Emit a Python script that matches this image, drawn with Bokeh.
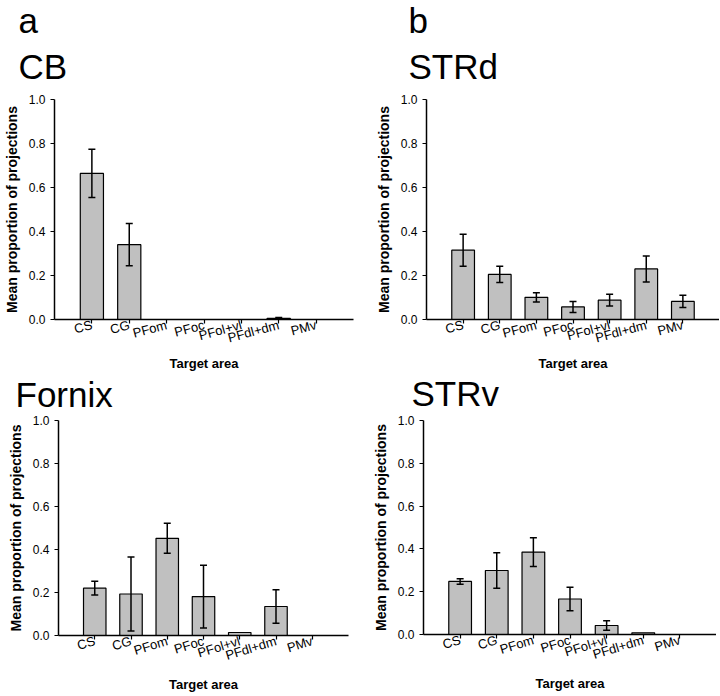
import math
from bokeh.plotting import figure
from bokeh.models import (Range1d, FixedTicker, Whisker, TeeHead, ColumnDataSource,
                          Title, PrintfTickFormatter)
from bokeh.layouts import column, row
from bokeh.embed import file_html
from bokeh.resources import INLINE

# ---------------- data ----------------
categories = ["CS", "CG", "PFom", "PFoc", "PFol+vl", "PFdl+dm", "PMv"]
y_ticks = [0.0, 0.2, 0.4, 0.6, 0.8, 1.0]

cb_mean = [0.664, 0.340, 0.0, 0.0, 0.0, 0.005, 0.0]
cb_err = [0.110, 0.096, 0.0, 0.0, 0.0, 0.004, 0.0]

strd_mean = [0.315, 0.205, 0.101, 0.057, 0.088, 0.230, 0.082]
strd_err = [0.073, 0.037, 0.021, 0.025, 0.027, 0.059, 0.028]

fornix_mean = [0.220, 0.193, 0.452, 0.181, 0.014, 0.135, 0.0]
fornix_err = [0.032, 0.172, 0.070, 0.146, 0.0, 0.078, 0.0]

strv_mean = [0.248, 0.299, 0.385, 0.166, 0.042, 0.008, 0.0]
strv_err = [0.013, 0.083, 0.067, 0.055, 0.022, 0.0, 0.0]

FONT = "Liberation Sans"


def make_panel(name, letter, means, errs, mbl, mbr, frame_w, frame_h, mbb,
               toff, name_standoff, letter_standoff, spacer_standoff,
               xlab_standoff, label_angle):
    xs = list(range(1, len(categories) + 1))
    p = figure(frame_width=frame_w, frame_height=frame_h,
               x_range=Range1d(0, 8), y_range=Range1d(0, 1),
               output_backend="svg", toolbar_location=None,
               min_border_left=mbl, min_border_right=mbr,
               min_border_top=0, min_border_bottom=mbb)
    p.outline_line_color = None
    p.xgrid.visible = False
    p.ygrid.visible = False

    p.vbar(x=xs, top=means, bottom=0, width=0.62, fill_color="#c0c0c0",
           line_color="black", line_width=1.2)

    ex, up, lo = [], [], []
    for x, m, e in zip(xs, means, errs):
        if e > 0:
            ex.append(x)
            up.append(m + e)
            lo.append(max(m - e, 0))
    src = ColumnDataSource(dict(x=ex, upper=up, lower=lo))
    p.add_layout(Whisker(source=src, base="x", upper="upper", lower="lower",
                         level="overlay",
                         line_color="black", line_width=1.5,
                         upper_head=TeeHead(size=7, line_width=1.5, line_color="black"),
                         lower_head=TeeHead(size=7, line_width=1.5, line_color="black")))

    # x axis
    xa = p.xaxis[0]
    xa.ticker = FixedTicker(ticks=xs)
    xa.major_label_overrides = {x: c for x, c in zip(xs, categories)}
    xa.major_label_orientation = math.radians(label_angle)
    xa.minor_tick_line_color = None
    xa.major_tick_in = 0
    xa.major_tick_out = 4
    xa.major_label_standoff = 1
    xa.major_label_text_font = FONT
    xa.major_label_text_font_size = "13px"
    xa.major_label_text_color = "black"
    xa.axis_label = "Target area"
    xa.axis_label_text_font = FONT
    xa.axis_label_text_font_size = "13px"
    xa.axis_label_text_font_style = "bold"
    xa.axis_label_text_color = "black"
    xa.axis_label_standoff = xlab_standoff
    xa.axis_line_width = 1.5
    xa.major_tick_line_width = 1.2

    # y axis
    ya = p.yaxis[0]
    ya.ticker = FixedTicker(ticks=y_ticks)
    ya.formatter = PrintfTickFormatter(format="%.1f")
    ya.minor_tick_line_color = None
    ya.major_tick_in = 0
    ya.major_tick_out = 4
    ya.major_label_standoff = 5
    ya.major_label_text_font = FONT
    ya.major_label_text_font_size = "12px"
    ya.major_label_text_color = "black"
    ya.axis_label = "Mean proportion of projections"
    ya.axis_label_text_font = FONT
    ya.axis_label_text_font_size = "14px"
    ya.axis_label_text_font_style = "bold"
    ya.axis_label_text_color = "black"
    ya.axis_label_standoff = 6
    ya.axis_line_width = 1.5
    ya.major_tick_line_width = 1.2

    # titles stacked outward from the frame: spacer, panel name, panel letter
    if spacer_standoff is not None:
        p.add_layout(Title(text=" ", text_font=FONT, text_font_size="10px",
                           standoff=spacer_standoff), "above")
    p.add_layout(Title(text=name, align="left", offset=toff, text_font=FONT,
                       text_font_size="35px", text_font_style="normal",
                       text_color="black", standoff=name_standoff), "above")
    if letter:
        p.add_layout(Title(text=letter, align="left", offset=toff, text_font=FONT,
                           text_font_size="35px", text_font_style="normal",
                           text_color="black", standoff=letter_standoff), "above")
    return p


# top row: frame top ~100, bottom ~320
p_cb = make_panel("CB", "a", cb_mean, cb_err, 53, 16, 299, 220, 53,
                  -36, 13, -3, -6, 0, 15)
p_strd = make_panel("STRd", "b", strd_mean, strd_err, 57, 0, 293, 220, 53,
                    -18, 13, -3, -6, 0, 15)
# bottom row
p_fornix = make_panel("Fornix", None, fornix_mean, fornix_err, 58, 20, 290, 215, 59,
                      -43, -3, 0, -5, 4, 17)
p_strv = make_panel("STRv", None, strv_mean, strv_err, 55, 0, 293, 214, 59,
                    -12, -3, 0, -4, 4, 17)

layout = column(row(p_cb, p_strd), row(p_fornix, p_strv))

open("out.html", "w").write(file_html(layout, INLINE))
